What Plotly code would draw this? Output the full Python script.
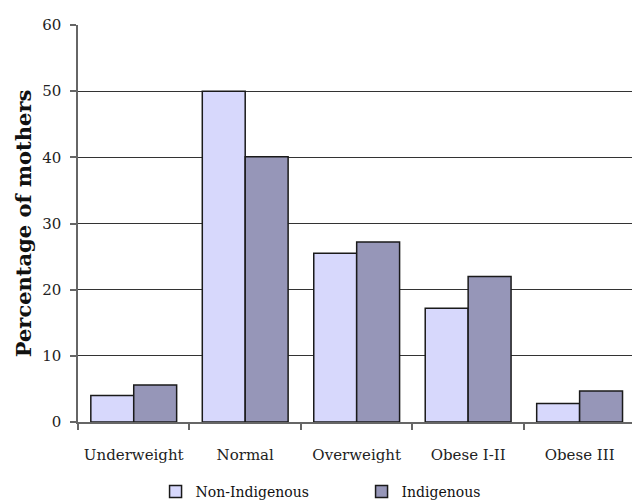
import plotly.graph_objects as go

categories = ["Underweight", "Normal", "Overweight", "Obese I-II", "Obese III"]
non_indigenous = [4.0, 50.0, 25.5, 17.2, 2.8]
indigenous = [5.6, 40.1, 27.2, 22.0, 4.7]
y_ticks = [0, 10, 20, 30, 40, 50, 60]

FONT = "DejaVu Serif"

fig = go.Figure()
fig.add_trace(go.Bar(
    name="Non-Indigenous", x=categories, y=non_indigenous,
    marker=dict(color="#D7D8FC", line=dict(color="#1a1a1a", width=1.5)),
))
fig.add_trace(go.Bar(
    name="Indigenous", x=categories, y=indigenous,
    marker=dict(color="#9696B8", line=dict(color="#1a1a1a", width=1.5)),
))

fig.update_layout(
    width=632, height=504,
    margin=dict(l=78, r=0, t=25, b=82, autoexpand=False),
    paper_bgcolor="white", plot_bgcolor="white",
    barmode="group", bargap=0.23, bargroupgap=0,
    font=dict(family=FONT, size=15, color="#222"),
    legend=dict(
        orientation="h", x=0.14, xanchor="left", y=-0.136, yanchor="top",
        font=dict(family=FONT, size=14, color="#111"),
        entrywidth=161, entrywidthmode="pixels",
        itemwidth=30,
    ),
    showlegend=True,
)
fig.update_xaxes(
    range=[-0.5, 4.47], showgrid=False,
    showline=True, linecolor="#666", linewidth=1.5,
    ticks="outside", tickson="boundaries", ticklen=6, tickcolor="#666", tickwidth=1.5,
    ticklabelstandoff=18, fixedrange=True,
)
fig.update_yaxes(
    range=[0, 60], tickvals=y_ticks,
    showgrid=True, gridcolor="#333", gridwidth=1,
    showline=True, linecolor="#666", linewidth=1.5,
    ticks="outside", ticklen=6, tickcolor="#666", tickwidth=1.5,
    ticklabelstandoff=6, zeroline=False,
    title=dict(text="<b>Percentage of mothers</b>", font=dict(family=FONT, size=21, color="#111"),
               standoff=5),
)

fig.write_html("out.html")
